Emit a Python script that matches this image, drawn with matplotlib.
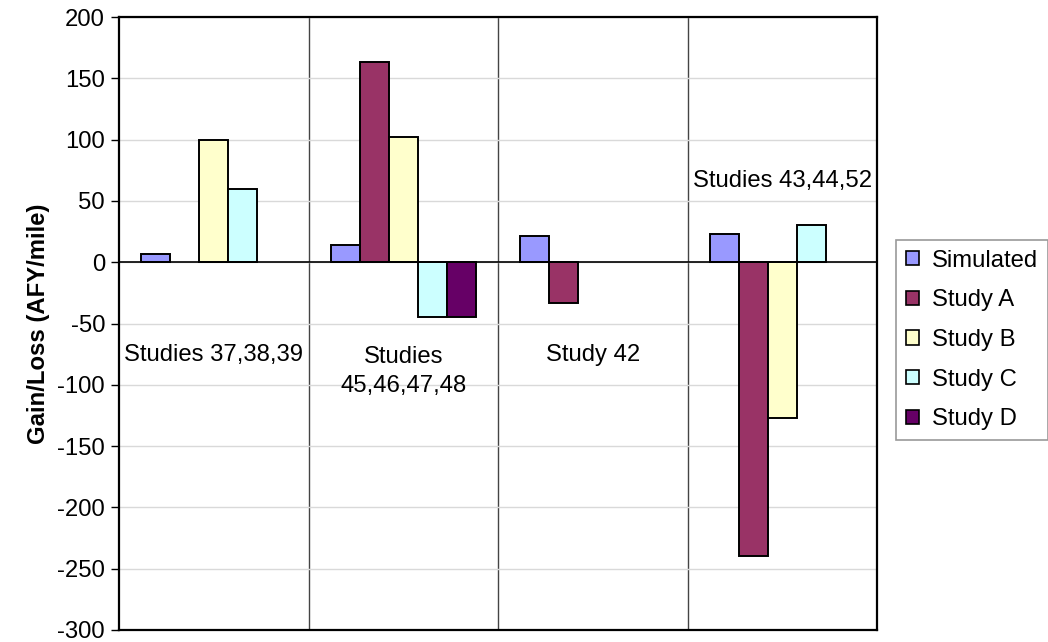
import numpy as np
import matplotlib
matplotlib.use("Agg")
import matplotlib.pyplot as plt
from matplotlib.patches import Patch

plt.rcParams['font.family'] = ['Liberation Sans', 'DejaVu Sans']
plt.rcParams['axes.unicode_minus'] = False

groups = ["Studies 37,38,39", "Studies\n45,46,47,48", "Study 42", "Studies 43,44,52"]
series = ["Simulated", "Study A", "Study B", "Study C", "Study D"]
nan = np.nan
simulated = [7, 14, 21, 23]
study_a = [nan, 163, -33, -240]
study_b = [100, 102, nan, -127]
study_c = [60, -45, nan, 30]
study_d = [nan, -45, nan, nan]
label_y = [-76, -89, -76, 66]
colors = ["#9999FF", "#993366", "#FFFFCC", "#CCFFFF", "#660066"]

values = [simulated, study_a, study_b, study_c, study_d]
fs = 17.2

fig = plt.figure(figsize=(10.48, 6.42), dpi=100)
ax = fig.add_axes([119 / 1048, 1 - 630 / 642, (877 - 119) / 1048, (630 - 17) / 642])

x = np.arange(len(groups))
w = 0.153
for i, (name, vals, col) in enumerate(zip(series, values, colors)):
    ax.bar(x + (i - 2) * w, vals, width=w, color=col, edgecolor="black",
           linewidth=1.4, label=name, zorder=3)

ax.set_xlim(-0.5, len(groups) - 0.5)
ax.set_ylim(-300, 200)
ax.set_yticks(np.arange(-300, 201, 50))
ax.tick_params(axis='y', labelsize=fs, length=6, width=1, direction='out', pad=4)
ax.set_xticks([])
ax.yaxis.grid(True, color="#d9d9d9", linewidth=1, zorder=0)
for b in np.arange(0.5, len(groups) - 0.5, 1.0):
    ax.axvline(b, color="#444444", linewidth=1, zorder=1)
ax.axhline(0, color="black", linewidth=1.2, zorder=4)
for s in ax.spines.values():
    s.set_linewidth(1.6)
    s.set_color("black")

ax.set_ylabel("Gain/Loss (AFY/mile)", fontsize=fs, fontweight="bold", labelpad=5)

for xi, (lab, ly) in enumerate(zip(groups, label_y)):
    ax.text(xi, ly, lab, ha="center", va="center", fontsize=fs,
            linespacing=1.4, zorder=5)

handles = [Patch(facecolor=c, edgecolor="black", linewidth=1.2, label=n)
           for n, c in zip(series, colors)]
leg = fig.legend(handles=handles, loc="upper left",
                 bbox_to_anchor=(896 / 1048, 1 - 240 / 642),
                 fontsize=fs, frameon=True, fancybox=False,
                 handlelength=0.55, handleheight=0.55, handletextpad=0.55,
                 labelspacing=0.74, borderpad=0.4, borderaxespad=0)
leg.get_frame().set_edgecolor("#808080")
leg.get_frame().set_linewidth(1.2)

fig.savefig("out.png", dpi=100)
